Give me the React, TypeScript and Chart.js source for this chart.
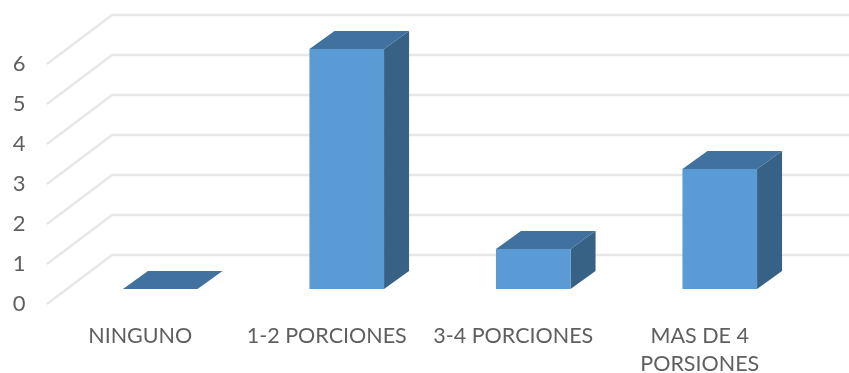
import React, { useEffect, useRef } from "react";
import { Chart, registerables, Plugin } from "chart.js";

Chart.register(...registerables);

const categories = ["NINGUNO", "1-2 PORCIONES", "3-4 PORCIONES", ["MAS DE 4", "PORSIONES"]];
const servings = [0, 6, 1, 3];
const valueTicks = [0, 1, 2, 3, 4, 5, 6];

const WALL = { dx: 65, dy: -49 };
const BAR_SHIFT = { dx: 20, dy: -15 };
const BAR_DEPTH = { dx: 25, dy: -18 };
const FRONT = "#5b9bd5";
const TOP = "#41729f";
const SIDE = "#376286";
const GRID = "#e7e7e7";
const TEXT = "#5f5f5f";

// Paints the back wall, the left wall and the depth faces of each column.
const depthPlugin: Plugin<"bar"> = {
  id: "depth",
  beforeDatasetsDraw(chart) {
    const { ctx, scales, width } = chart;
    const left = scales.x.left;
    ctx.save();
    ctx.strokeStyle = GRID;
    ctx.lineWidth = 2.5;
    for (const v of valueTicks) {
      const y = scales.y.getPixelForValue(v);
      ctx.beginPath();
      ctx.moveTo(left, y);
      ctx.lineTo(left + WALL.dx, y + WALL.dy);
      ctx.lineTo(width, y + WALL.dy);
      ctx.stroke();
    }
    ctx.restore();
  },
  beforeDatasetDraw(chart, args) {
    const { ctx } = chart;
    const meta = chart.getDatasetMeta(args.index);
    ctx.save();
    ctx.translate(BAR_SHIFT.dx, BAR_SHIFT.dy);
    meta.data.forEach((el: any) => {
      const { x, y, base, width } = el.getProps(["x", "y", "base", "width"], true);
      const l = x - width / 2;
      const r = x + width / 2;
      const { dx, dy } = BAR_DEPTH;
      ctx.fillStyle = TOP;
      ctx.beginPath();
      ctx.moveTo(l, y);
      ctx.lineTo(l + dx, y + dy);
      ctx.lineTo(r + dx, y + dy);
      ctx.lineTo(r, y);
      ctx.closePath();
      ctx.fill();
      if (base > y) {
        ctx.fillStyle = SIDE;
        ctx.beginPath();
        ctx.moveTo(r, y);
        ctx.lineTo(r + dx, y + dy);
        ctx.lineTo(r + dx, base + dy);
        ctx.lineTo(r, base);
        ctx.closePath();
        ctx.fill();
      }
    });
  },
  afterDatasetDraw(chart) {
    chart.ctx.restore();
  },
};

export default function App() {
  const canvasRef = useRef<HTMLCanvasElement>(null);

  useEffect(() => {
    const chart = new Chart(canvasRef.current!, {
      type: "bar",
      data: {
        labels: categories as any,
        datasets: [
          {
            data: servings,
            backgroundColor: FRONT,
            barPercentage: 1,
            categoryPercentage: 0.4,
            clip: false as any,
          },
        ],
      },
      plugins: [depthPlugin],
      options: {
        animation: false,
        responsive: false,
        layout: { padding: { top: 64, right: 56, left: 0, bottom: 0 } },
        plugins: { legend: { display: false }, tooltip: { enabled: false } },
        scales: {
          x: {
            grid: { display: false },
            border: { display: false },
            afterFit: (s: any) => {
              s.height = 69;
            },
            ticks: {
              maxRotation: 0,
              autoSkip: false,
              padding: 11,
              color: TEXT,
              font: { family: "Lato", size: 21.5, lineHeight: 1.26 },
            },
          },
          y: {
            min: 0,
            max: 6,
            grid: { display: false },
            border: { display: false },
            afterFit: (s: any) => {
              s.width = 47;
            },
            ticks: {
              stepSize: 1,
              padding: 13.5,
              color: TEXT,
              font: { family: "Lato", size: 22 },
            },
          },
        },
      },
    });
    return () => chart.destroy();
  }, []);

  return (
    <div style={{ position: "absolute", left: 0, top: 0, width: 849, height: 373, background: "#fff" }}>
      <canvas ref={canvasRef} width={849} height={373} style={{ display: "block" }} />
    </div>
  );
}
